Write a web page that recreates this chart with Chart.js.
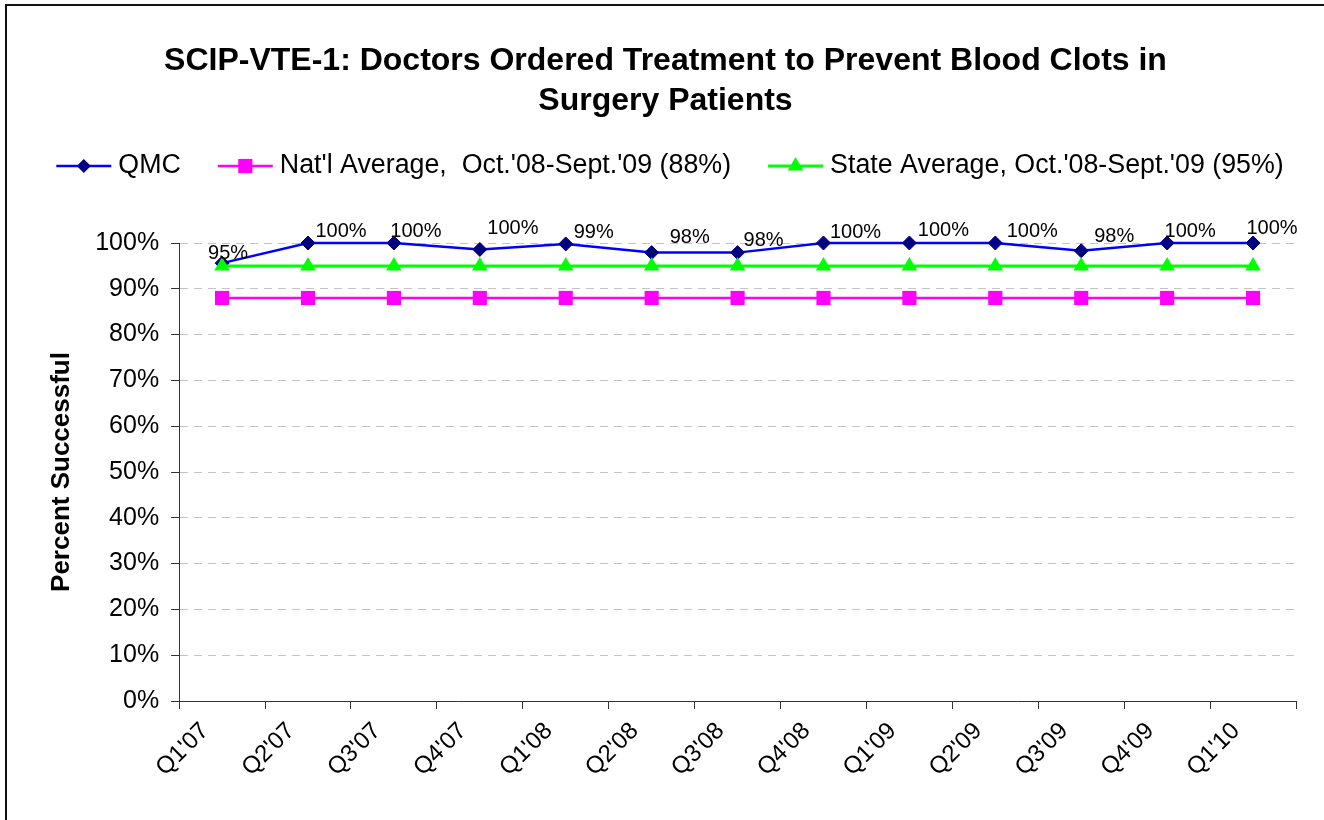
<!DOCTYPE html>
<html>
<head>
<meta charset="utf-8">
<script src="https://cdn.jsdelivr.net/npm/chart.js@4/dist/chart.umd.min.js"></script>
<style>
    body { margin: 0; background: #fff; }
    .frame { position: relative; width: 1324px; height: 820px; overflow: hidden; }
    .edge {
        position: absolute; left: 5px; top: 4px; right: -10px; bottom: -10px;
        border-left: 2px solid #111; border-top: 2px solid #111;
        pointer-events: none;
    }
</style>
</head>
<body>
<div class="frame">
    <canvas id="myChart" width="1324" height="820"></canvas>
    <div class="edge"></div>
</div>
<script>
    const quarters = ["Q1'07", "Q2'07", "Q3'07", "Q4'07", "Q1'08", "Q2'08", "Q3'08",
        "Q4'08", "Q1'09", "Q2'09", "Q3'09", "Q4'09", "Q1'10"];
    const qmcValues = [95.6, 100, 100, 98.6, 99.8, 97.9, 97.9, 100, 100, 100, 98.3, 100, 100];
    const qmcLabels = ["95%", "100%", "100%", "100%", "99%", "98%", "98%",
        "100%", "100%", "100%", "98%", "100%", "100%"];
    const natlValues = [88, 88, 88, 88, 88, 88, 88, 88, 88, 88, 88, 88, 88];
    const stateValues = [95, 95, 95, 95, 95, 95, 95, 95, 95, 95, 95, 95, 95];
    const yTicks = [0, 10, 20, 30, 40, 50, 60, 70, 80, 90, 100];

    const FONT = "Arial, 'Liberation Sans', sans-serif";

    // where excel left each value label, relative to its point
    const labelNudge = [[6, -10], [33, -12], [22, -12], [33, -21], [28, -11], [38, -15], [26, -12],
        [32, -11], [34, -13], [37, -12], [33, -14], [23, -12], [19, -15]];

    function marker(ctx, style, x, y, r, color) {
        ctx.save();
        ctx.fillStyle = color;
        ctx.beginPath();
        if (style === 'rectRot') {
            ctx.moveTo(x - r, y); ctx.lineTo(x, y - r); ctx.lineTo(x + r, y); ctx.lineTo(x, y + r);
        } else if (style === 'rect') {
            const s = r * Math.SQRT1_2;
            ctx.rect(x - s, y - s, 2 * s, 2 * s);
        } else {
            ctx.moveTo(x, y - r);
            ctx.lineTo(x + r * 0.866, y + r * 0.5);
            ctx.lineTo(x - r * 0.866, y + r * 0.5);
        }
        ctx.closePath();
        ctx.fill();
        ctx.restore();
    }

    const extras = {
        id: 'extras',
        afterDatasetsDraw(chart) {
            const ctx = chart.ctx;
            ctx.save();
            // value labels on QMC
            ctx.font = '20px ' + FONT;
            ctx.fillStyle = '#000';
            ctx.textAlign = 'center';
            ctx.textBaseline = 'middle';
            chart.getDatasetMeta(0).data.forEach((pt, i) => {
                ctx.fillText(qmcLabels[i], pt.x + labelNudge[i][0], pt.y + labelNudge[i][1]);
            });

            // legend row
            ctx.font = '26.8px ' + FONT;
            ctx.textAlign = 'left';
            const items = chart.data.datasets.map(ds => ({
                ds: ds, w: 55 + 7 + ctx.measureText(ds.label).width
            }));
            const gap = 37;
            const total = items.reduce((a, it) => a + it.w, 0) + gap * (items.length - 1);
            let x = 670 - total / 2;
            const y = 166;
            items.forEach(it => {
                const ds = it.ds;
                ctx.strokeStyle = ds.borderColor;
                ctx.lineWidth = ds.borderWidth;
                ctx.beginPath();
                ctx.moveTo(x, y); ctx.lineTo(x + 55, y);
                ctx.stroke();
                marker(ctx, ds.pointStyle, x + 27.5, y, ds.pointRadius, ds.pointBackgroundColor);
                ctx.fillStyle = '#000';
                ctx.fillText(ds.label, x + 62, y);
                x += it.w + gap;
            });
            ctx.restore();
        }
    };

    const ctx = document.getElementById('myChart').getContext('2d');
    const myChart = new Chart(ctx, {
        type: 'line',
        data: {
            labels: quarters,
            datasets: [{
                label: 'QMC',
                data: qmcValues,
                borderColor: '#0000FF',
                borderWidth: 2.5,
                pointStyle: 'rectRot',
                pointRadius: 7,
                pointBackgroundColor: '#000080',
                pointBorderColor: '#000080',
                pointBorderWidth: 1,
                order: 2,
                clip: false
            }, {
                label: "Nat'l Average,  Oct.'08-Sept.'09 (88%)",
                data: natlValues,
                borderColor: '#FF00FF',
                borderWidth: 2.5,
                pointStyle: 'rect',
                pointRadius: 10,
                pointBackgroundColor: '#FF00FF',
                pointBorderColor: '#FF00FF',
                pointBorderWidth: 0,
                order: 1,
                clip: false
            }, {
                label: "State Average, Oct.'08-Sept.'09 (95%)",
                data: stateValues,
                borderColor: '#00FF00',
                borderWidth: 3,
                pointStyle: 'triangle',
                pointRadius: 9,
                pointBackgroundColor: '#00FF00',
                pointBorderColor: '#00FF00',
                pointBorderWidth: 0,
                order: 0,
                clip: false
            }]
        },
        options: {
            responsive: false,
            animation: false,
            layout: { padding: { left: 35, right: 28, top: 0, bottom: 0 } },
            elements: { line: { tension: 0 } },
            plugins: {
                legend: { display: false },
                tooltip: { enabled: false },
                title: {
                    display: true,
                    text: ['SCIP-VTE-1: Doctors Ordered Treatment to Prevent Blood Clots in', 'Surgery Patients'],
                    color: '#000',
                    font: { family: FONT, size: 32, weight: 'bold', lineHeight: 1.25 },
                    padding: { top: 41, bottom: 122 }
                }
            },
            scales: {
                x: {
                    offset: true,
                    afterFit: axis => { axis.height = 119; },
                    grid: { offset: true, drawOnChartArea: false, tickLength: 8, tickColor: '#333' },
                    border: { color: '#333', width: 1 },
                    ticks: {
                        autoSkip: false, minRotation: 45, maxRotation: 45,
                        labelOffset: -17, padding: 8,
                        color: '#000', font: { family: FONT, size: 24 }
                    }
                },
                y: {
                    min: 0, max: 100,
                    afterBuildTicks: axis => { axis.ticks = yTicks.map(v => ({ value: v })); },
                    grid: { color: '#c4c4c4', tickLength: 8, tickColor: '#333', tickBorderDash: [] },
                    border: { color: '#333', width: 1, dash: [8, 6] },
                    ticks: {
                        padding: 12, color: '#000', font: { family: FONT, size: 25 },
                        callback: v => v + '%'
                    },
                    title: {
                        display: true, text: 'Percent Successful', color: '#000',
                        font: { family: FONT, size: 26, weight: 'bold' },
                        padding: { top: 11, bottom: 6 }
                    }
                }
            }
        },
        plugins: [extras]
    });
</script>
</body>
</html>
